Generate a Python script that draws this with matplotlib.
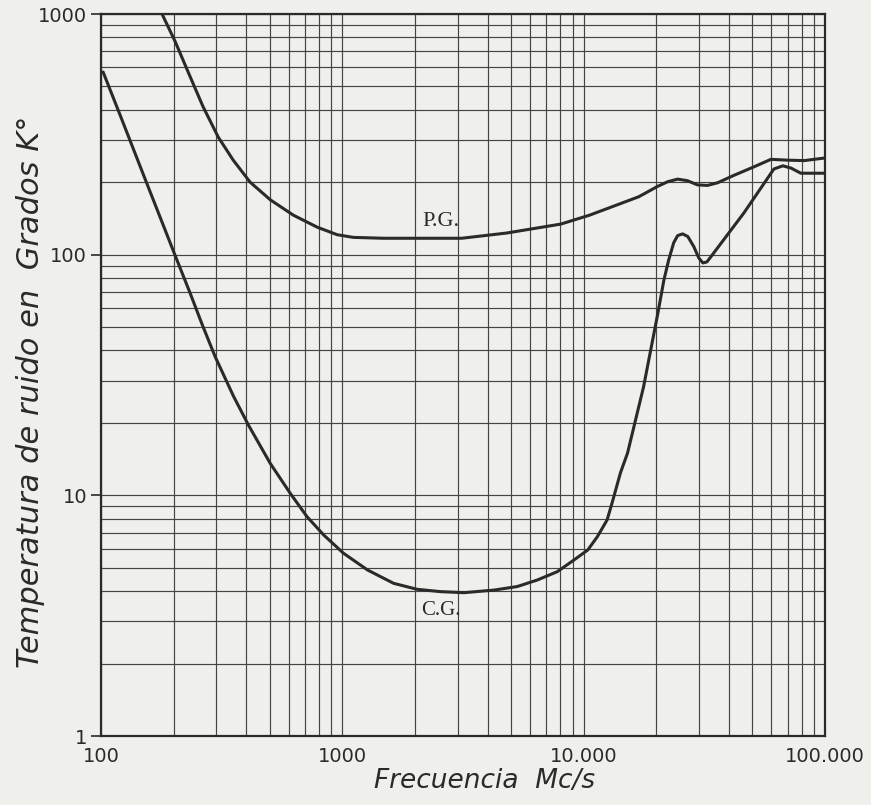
import numpy as np
import matplotlib.pyplot as plt
from matplotlib.ticker import LogLocator, FixedLocator, FixedFormatter, NullFormatter

# curve P.G. (frequency in Mc/s, noise temperature in K)
pg_freq = [179, 203, 234, 265, 306, 353, 415, 503, 626, 788, 953, 1110,
           1480, 2800, 3120, 4790, 8040, 10590, 16900, 20200, 22300, 24500,
           26900, 29600, 32600, 35900, 42100, 50900, 59700, 70000, 82000,
           99300]
pg_temp = [1000, 767, 549, 411, 308, 247, 200, 169, 146, 130, 121, 118,
           117, 117, 117, 123, 134, 146, 174, 192, 201, 206,
           203, 195, 194, 199, 214, 232, 249, 247, 246,
           252]

# curve C.G.
cg_freq = [102, 120, 149, 203, 234, 262, 297, 354, 408, 502, 608, 714, 836,
           1010, 1270, 1630, 2040, 2550, 3190, 4250, 5310, 6430, 7780, 9120,
           10400, 11400, 12500, 13100, 14200, 15200, 17700, 20300, 21500,
           22500, 23600, 24500, 25700, 27000, 28600, 30000, 31200, 32400,
           33600, 46100, 54200, 61400, 66900, 72300, 79400, 89900, 99700]
cg_temp = [574, 380, 218, 99, 69.2, 51.5, 37.7, 25.8, 19.6, 13.6, 10.2, 8.15,
           6.85, 5.75, 4.90, 4.31, 4.07, 3.98, 3.94, 4.04, 4.18, 4.45, 4.82,
           5.39, 5.93, 6.74, 7.90, 9.27, 12.4, 15.0, 28.2, 57.2, 78.5,
           95, 112, 120, 122, 119, 108, 96.8, 92.4, 93.3,
           97.8, 149, 189, 227, 234, 229, 218, 218, 218]

x_ticks = [100, 1000, 10000, 100000]
x_labels = ['100', '1000', '10.000', '100.000']
y_ticks = [1, 10, 100, 1000]
y_labels = ['1', '10', '100', '1000']

paper = '#efefeb'
ink = '#2a2a2a'

fig = plt.figure(figsize=(8.71, 8.05), dpi=100, facecolor=paper)
ax = fig.add_axes([0.116, 0.0857, 0.8312, 0.8969], facecolor=paper)

ax.set_xscale('log')
ax.set_yscale('log')
ax.set_xlim(100, 100000)
ax.set_ylim(1, 1000)

ax.plot(pg_freq, pg_temp, color=ink, lw=2.2, solid_capstyle='round',
        solid_joinstyle='round')
ax.plot(cg_freq, cg_temp, color=ink, lw=2.2, solid_capstyle='round',
        solid_joinstyle='round')

# log paper grid
ax.xaxis.set_minor_locator(LogLocator(base=10, subs=np.arange(2, 10)))
ax.yaxis.set_minor_locator(LogLocator(base=10, subs=np.arange(2, 10)))
ax.xaxis.set_minor_formatter(NullFormatter())
ax.yaxis.set_minor_formatter(NullFormatter())
ax.grid(True, which='both', color='#444444', lw=0.85)

ax.xaxis.set_major_locator(FixedLocator(x_ticks))
ax.xaxis.set_major_formatter(FixedFormatter(x_labels))
ax.yaxis.set_major_locator(FixedLocator(y_ticks))
ax.yaxis.set_major_formatter(FixedFormatter(y_labels))

ax.tick_params(axis='x', which='both', length=0, pad=8, labelsize=14,
               labelcolor=ink)
ax.tick_params(axis='y', which='major', length=7, width=1.2, direction='out',
               pad=3, labelsize=14, labelcolor=ink, color=ink)
ax.tick_params(axis='y', which='minor', length=0)

for s in ax.spines.values():
    s.set_color(ink)
    s.set_linewidth(1.6)

ax.text(2550, 138, 'P.G.', family='Liberation Serif', fontsize=16,
        color=ink, ha='center', va='center')
ax.text(2550, 3.31, 'C.G.', family='Liberation Serif', fontsize=15,
        color=ink, ha='center', va='center')

fig.text(0.035, 0.513, 'Temperatura de ruido en  Grados K°', rotation=90,
         style='italic', fontsize=22, color=ink, ha='center', va='center')
fig.text(0.556, 0.030, 'Frecuencia  Mc/s', style='italic', fontsize=19,
         color=ink, ha='center', va='center')

fig.savefig('out.png', dpi=100, facecolor=paper)
